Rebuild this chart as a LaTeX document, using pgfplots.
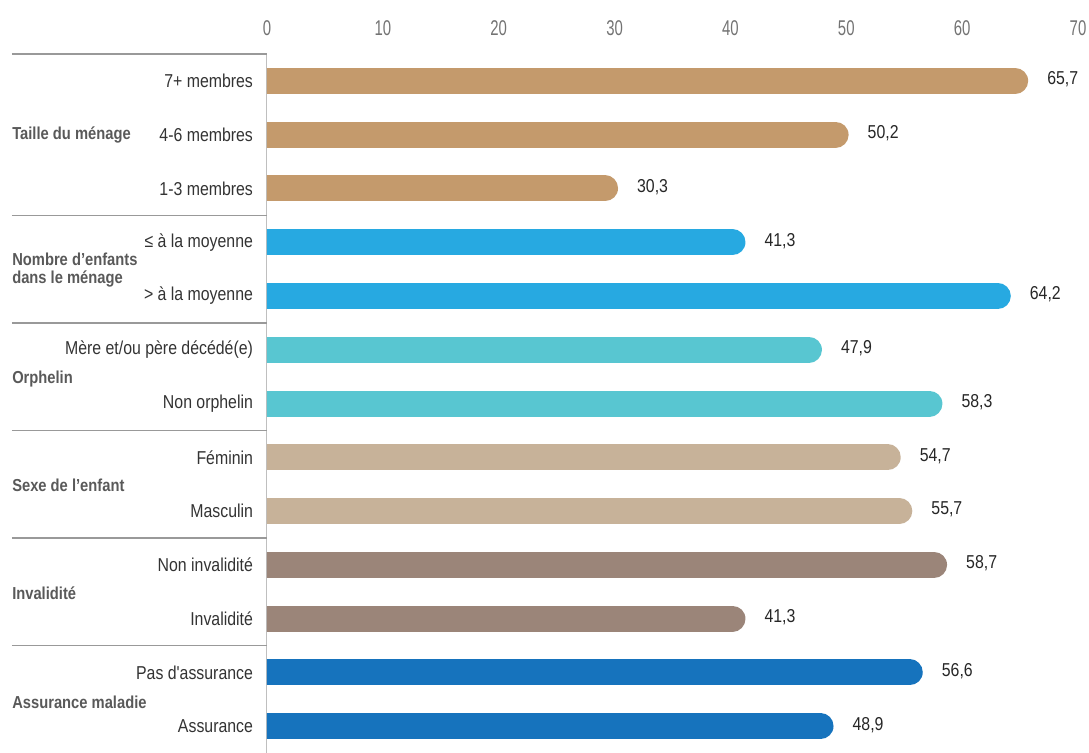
\documentclass[border=0pt]{standalone}
\usepackage{fontspec}
\setmainfont{Liberation Sans}[FakeStretch=0.85, Ligatures=TeXOff]
\newfontfamily\tickfont{Liberation Sans}[FakeStretch=0.7]
\usepackage{pgfplots}
\pgfplotsset{compat=1.18}
\usepackage{pgfplotstable}

\definecolor{cTaille}{HTML}{C49A6C}
\definecolor{cEnf}{HTML}{27A9E1}
\definecolor{cOrph}{HTML}{58C6D1}
\definecolor{cSexe}{HTML}{C7B299}
\definecolor{cInv}{HTML}{9B8579}
\definecolor{cAss}{HTML}{1673BD}

\pgfplotstableread{
y v
0 65.7
1 50.2
2 30.3
}\tTaille
\pgfplotstableread{
y v
3 41.3
4 64.2
}\tEnf
\pgfplotstableread{
y v
5 47.9
6 58.3
}\tOrph
\pgfplotstableread{
y v
7 54.7
8 55.7
}\tSexe
\pgfplotstableread{
y v
9 58.7
10 41.3
}\tInv
\pgfplotstableread{
y v
11 56.6
12 48.9
}\tAss

% bar half-height 9.75pt = 1.122 x-units (608.25pt / 70)
\pgfplotsset{
  rbar/.style={xcomb, draw=#1, line width=19.5pt, line cap=round, mark=none,
    point meta=\thisrow{v}, nodes near coords,
    every node near coord/.append style={anchor=west, xshift=11pt, yshift=1pt,
      font=\fontsize{14}{14}\selectfont, text=black!85,
      /pgf/number format/.cd, fixed, fixed zerofill, precision=1, use comma}},
}

\begin{document}
\begin{tikzpicture}
\begin{axis}[
  name=ax,
  width=608.25pt, height=524.25pt, scale only axis,
  xmin=0, xmax=70, ymin=-0.5, ymax=12.5, y dir=reverse,
  axis x line*=top, axis y line*=left,
  axis line style={-},
  x axis line style={draw=none},
  y axis line style={draw=black!25, line width=0.75pt},
  xtick={0,10,...,70}, major tick length=0pt,
  /pgf/number format/assume math mode=true,
  xticklabel style={font=\tickfont\fontsize{16}{16}\selectfont, text=black!55, yshift=10pt},
  ytick={0,...,12},
  yticklabels={7+ membres, 4-6 membres, 1-3 membres, ≤ à la moyenne, > à la moyenne,
    Mère et/ou père décédé(e), Non orphelin, Féminin, Masculin, Non invalidité,
    Invalidité, Pas d'assurance, Assurance},
  yticklabel style={font=\fontsize{14}{14}\selectfont, text=black!80, xshift=-7pt},
]
\addplot[rbar=cTaille] table[x expr=\thisrow{v}-1.122, y=y] {\tTaille};
\addplot[rbar=cEnf] table[x expr=\thisrow{v}-1.122, y=y] {\tEnf};
\addplot[rbar=cOrph] table[x expr=\thisrow{v}-1.122, y=y] {\tOrph};
\addplot[rbar=cSexe] table[x expr=\thisrow{v}-1.122, y=y] {\tSexe};
\addplot[rbar=cInv] table[x expr=\thisrow{v}-1.122, y=y] {\tInv};
\addplot[rbar=cAss] table[x expr=\thisrow{v}-1.122, y=y] {\tAss};

\coordinate (g0) at (axis cs:0,-0.5);
\coordinate (g1) at (axis cs:0,2.5);
\coordinate (g2) at (axis cs:0,4.5);
\coordinate (g3) at (axis cs:0,6.5);
\coordinate (g4) at (axis cs:0,8.5);
\coordinate (g5) at (axis cs:0,10.5);
\coordinate (l0) at (axis cs:0,1);
\coordinate (l1) at (axis cs:0,3.52);
\coordinate (l2) at (axis cs:0,5.55);
\coordinate (l3) at (axis cs:0,7.52);
\coordinate (l4) at (axis cs:0,9.52);
\coordinate (l5) at (axis cs:0,11.55);
\end{axis}
\foreach \g in {g0,g1,g2,g3,g4,g5}{
  \draw[black!40, line width=1pt] ([xshift=-191.25pt]\g) -- (\g);
}
\begin{scope}[every node/.style={anchor=west, inner sep=0pt, align=left,
    font=\bfseries\fontsize{13}{13.5}\selectfont, text=black!65}]
\node at ([xshift=-191.25pt]l0) {Taille du ménage};
\node at ([xshift=-191.25pt]l1) {Nombre d’enfants\\dans le ménage};
\node at ([xshift=-191.25pt]l2) {Orphelin};
\node at ([xshift=-191.25pt]l3) {Sexe de l’enfant};
\node at ([xshift=-191.25pt]l4) {Invalidité};
\node at ([xshift=-191.25pt]l5) {Assurance maladie};
\end{scope}
\pgfresetboundingbox
\path[use as bounding box] ([xshift=-200.25pt]ax.south west) rectangle ([xshift=8.25pt,yshift=40.5pt]ax.north east);
\end{tikzpicture}
\end{document}
